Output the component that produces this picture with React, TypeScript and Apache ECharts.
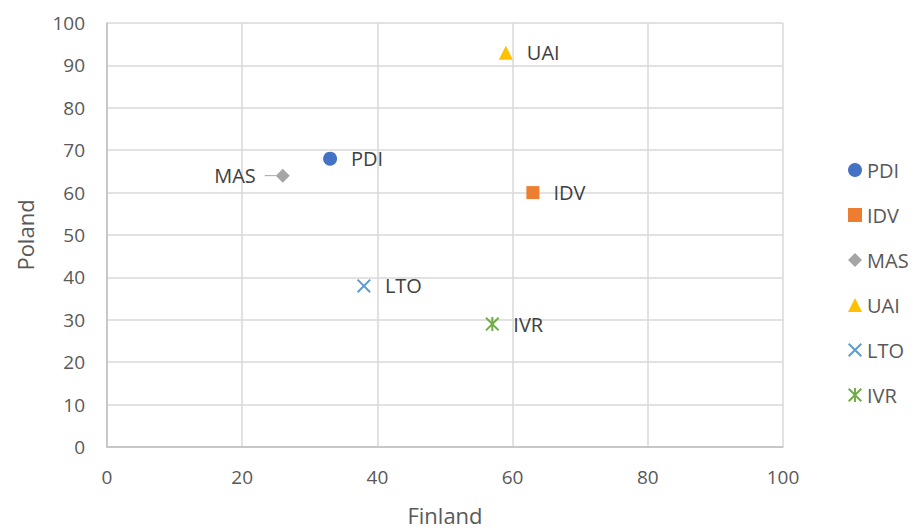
import React, { useEffect, useRef } from "react";
import * as echarts from "echarts";

const names = ["PDI", "IDV", "MAS", "UAI", "LTO", "IVR"];
const finland = [33, 63, 26, 59, 38, 57];
const poland = [68, 60, 64, 93, 38, 29];
const colors = ["#4472c4", "#ed7d31", "#a5a5a5", "#ffc000", "#5b9bd5", "#70ad47"];
const xTicks = [0, 20, 40, 60, 80, 100];
const yTicks = [0, 10, 20, 30, 40, 50, 60, 70, 80, 90, 100];

const xPath = "path://M-1,-0.8 L-0.8,-1 L1,0.8 L0.8,1 Z M0.8,-1 L1,-0.8 L-0.8,1 L-1,0.8 Z";
const starPath =
  "path://M-1,-0.8 L-0.8,-1 L1,0.8 L0.8,1 Z M0.8,-1 L1,-0.8 L-0.8,1 L-1,0.8 Z M-0.14,-1 L0.14,-1 L0.14,1 L-0.14,1 Z";
const symbols = ["circle", "rect", "diamond", "triangle", xPath, starPath];
const sizes = [14, 13, 14, 14, 14, 14];

const FONT = "'Open Sans', 'Noto Sans', sans-serif";

export default function App() {
  const ref = useRef<HTMLDivElement>(null);
  useEffect(() => {
    if (!ref.current) return;
    document.body.style.margin = "0";
    const chart = echarts.init(ref.current, undefined, { renderer: "svg" });
    const series = names.map((n, i) => {
      const isMas = n === "MAS";
      return {
        name: n,
        type: "scatter",
        data: [[finland[i], poland[i]]],
        symbol: symbols[i],
        symbolSize: sizes[i],
        itemStyle: { color: colors[i], opacity: 1 },
        label: {
          show: true,
          formatter: isMas ? "{t|MAS}{g|}{l|}" : n,
          position: isMas ? "left" : "right",
          distance: isMas ? 0 : 14,
          color: "#404040",
          fontSize: 20,
          fontFamily: FONT,
          rich: isMas
            ? {
                t: { color: "#404040", fontSize: 20, fontFamily: FONT },
                g: { width: 9, height: 1 },
                l: { width: 11, height: 1, backgroundColor: "#a6a6a6" },
              }
            : undefined,
        },
      };
    });
    chart.setOption({
      animation: false,
      backgroundColor: "#ffffff",
      grid: { left: 107, right: 129, top: 23, bottom: 80, containLabel: false },
      legend: {
        orient: "vertical",
        left: 843,
        top: 155,
        itemWidth: 14,
        itemHeight: 14,
        itemGap: 25,
        textStyle: { color: "#595959", fontSize: 20, fontFamily: FONT },
        data: names,
      },
      xAxis: {
        type: "value",
        min: 0,
        max: 100,
        interval: 20,
        name: "Finland",
        nameLocation: "middle",
        nameGap: 57,
        nameTextStyle: { color: "#595959", fontSize: 22, fontFamily: FONT },
        axisLine: { show: true, lineStyle: { color: "#bfbfbf", width: 1.5 } },
        axisTick: { show: false },
        axisLabel: {
          color: "#595959",
          fontSize: 19,
          fontFamily: FONT,
          margin: 20,
          formatter: (v: number) => (xTicks.includes(v) ? String(v) : ""),
        },
        splitLine: { show: true, lineStyle: { color: "#d9d9d9", width: 1.5 } },
      },
      yAxis: {
        type: "value",
        min: 0,
        max: 100,
        interval: 10,
        name: "Poland",
        nameLocation: "middle",
        nameGap: 71,
        nameTextStyle: { color: "#595959", fontSize: 22, fontFamily: FONT },
        axisLine: { show: true, lineStyle: { color: "#bfbfbf", width: 1.5 } },
        axisTick: { show: false },
        axisLabel: {
          color: "#595959",
          fontSize: 19,
          fontFamily: FONT,
          margin: 22,
          formatter: (v: number) => (yTicks.includes(v) ? String(v) : ""),
        },
        splitLine: { show: true, lineStyle: { color: "#d9d9d9", width: 1.5 } },
      },
      series,
    });
    return () => chart.dispose();
  }, []);
  return <div ref={ref} style={{ width: 912, height: 531 }} />;
}
